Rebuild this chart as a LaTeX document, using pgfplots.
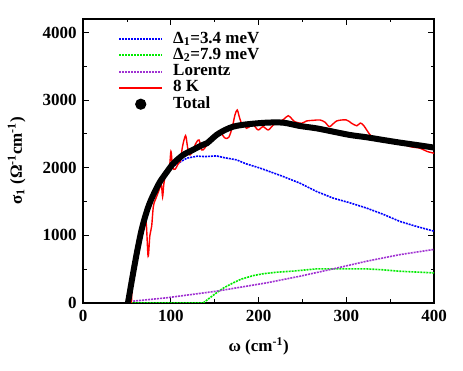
\documentclass[border=0pt]{standalone}
\usepackage{fontspec}
\setmainfont{Liberation Serif}
\usepackage{pgfplots}
\pgfplotsset{compat=1.18}
\definecolor{lorentz}{RGB}{160,50,210}
\definecolor{grn}{RGB}{0,235,0}
\definecolor{blu}{RGB}{0,0,255}
\begin{document}
\begin{tikzpicture}
\path[use as bounding box] (-83.3pt,-67.7pt) rectangle (380pt,303pt);
\begin{axis}[
 at={(0,0)}, anchor=south west,
 scale only axis, width=351pt, height=284pt,
 xmin=0,xmax=400,ymin=0,ymax=4200,
 xtick={0,100,...,400}, ytick={0,1000,...,4000},
 minor xtick={50,150,250,350}, minor ytick={500,1500,2500,3500},
 tick align=inside, major tick length=6pt, minor tick length=3.5pt,
 axis line style={line width=1.6pt},
 every tick/.style={line width=1pt, black},
 tick label style={font=\fontsize{17}{17}\selectfont\bfseries},
 /pgf/number format/assume math mode=true,
 /pgf/number format/set thousands separator={},
 yticklabel style={xshift=-3pt},
 xticklabel style={yshift=-4pt},
 xlabel={ω (cm\textsuperscript{-1})},
 ylabel={σ\textsubscript{1} (Ω\textsuperscript{-1}cm\textsuperscript{-1})},
 label style={font=\fontsize{17}{17}\selectfont\bfseries},
 xlabel style={at={(axis description cs:0.5,-0.1725)}, anchor=base},
 ylabel style={at={(axis description cs:-0.19,0.5)}, anchor=center},
 legend style={draw=none, fill=none, at={(axis description cs:0.085,0.965)}, anchor=north west,
   font=\fontsize{17}{17}\selectfont\bfseries, row sep=0pt, cells={anchor=west},
   nodes={inner ysep=0pt, text height=12pt, text depth=4.25pt}},
 legend image code/.code={\draw[#1, line width=2pt] (0pt,0pt) -- (43pt,0pt); \path (49pt,0pt);},
]
\addplot[blu, line width=1.6pt, dash pattern=on 2pt off 1pt] coordinates {
(53,0)(56,300)(60,600)(65,900)(70,1150)(75,1370)(80,1560)(87,1750)(95,1910)(100,2000)
(110,2080)(118,2140)(130,2170)(139,2164)(152,2174)(160,2150)(175,2115)(185,2060)
(202,1992)(228,1869)(247,1771)(266,1648)(285,1549)(304,1480)(323,1402)(342,1310)
(361,1205)(380,1130)(400,1060)};
\addlegendentry{Δ\textsubscript{1}=3.4 meV}
\addplot[grn, line width=1.6pt, dash pattern=on 2pt off 1pt] coordinates {
(55,0)(137,0)(145,80)(152,148)(160,220)(171,295)(180,350)(194,403)(205,430)(220,452)
(240,470)(266,502)(285,502)(323,502)(340,490)(361,467)(380,455)(400,443)};
\addlegendentry{Δ\textsubscript{2}=7.9 meV}
\addplot[lorentz, line width=1.6pt, dash pattern=on 2pt off 1pt] coordinates {
(57,25)(95,74)(152,172)(209,295)(247,393)(285,502)(323,615)(361,713)(400,790)};
\addlegendentry{Lorentz}
\addplot[red, line width=1.4pt, smooth, tension=0.5] coordinates {
(55,0)(56,300)(58,500)(62,800)(66,1050)(70,1260)(72,1150)(74,690)(76,1000)(78,1130)
(80,1430)(83,1550)(86,1650)(89,1750)(90.5,1570)(92,1770)(95,1950)(98,1950)(100,2240)
(102,2000)(105,1980)(108,2050)(111,2100)(113,2300)(116.7,2474)(119,2300)(121.7,2189)
(125,2250)(128,2350)(132,2410)(135,2263)(138,2280)(141,2336)(145,2380)(150,2450)
(153,2520)(156,2543)(159,2480)(162,2435)(166,2450)(170,2600)(173,2780)(175.6,2853)
(178,2750)(181,2640)(184,2642)(186,2583)(190,2610)(194,2631)(199.5,2558)(205,2607)
(211,2558)(216.6,2631)(224,2681)(229,2720)(233.8,2769)(238,2720)(241,2681)(249,2657)
(254.7,2691)(262,2700)(270,2706)(276,2670)(281,2607)(289,2691)(300,2706)(306,2657)
(312,2620)(316,2660)(320,2620)(329,2460)(340,2430)(357,2386)(372.5,2312)(384,2288)
(392,2240)(400,2214)};
\addlegendentry{8 K}
\addplot[black, line width=6pt, smooth, tension=0.5,
  legend image code/.code={\fill[black] (21.5pt,0pt) circle (2.4pt); \path (0pt,0pt) (49pt,0pt);}] coordinates {
(51,0)(53,150)(55,300)(58,520)(62,800)(66,1050)(70,1250)(75,1450)(80,1600)(87,1780)
(95,1930)(103,2066)(114,2189)(125,2263)(135,2330)(141,2361)(152,2484)(162,2560)
(171,2607)(180,2630)(190,2646)(209,2666)(228,2666)(247,2617)(266,2582)(285,2533)
(304,2484)(323,2450)(342,2410)(361,2371)(380,2336)(400,2297)};
\addlegendentry{Total}
\end{axis}
\end{tikzpicture}
\end{document}
